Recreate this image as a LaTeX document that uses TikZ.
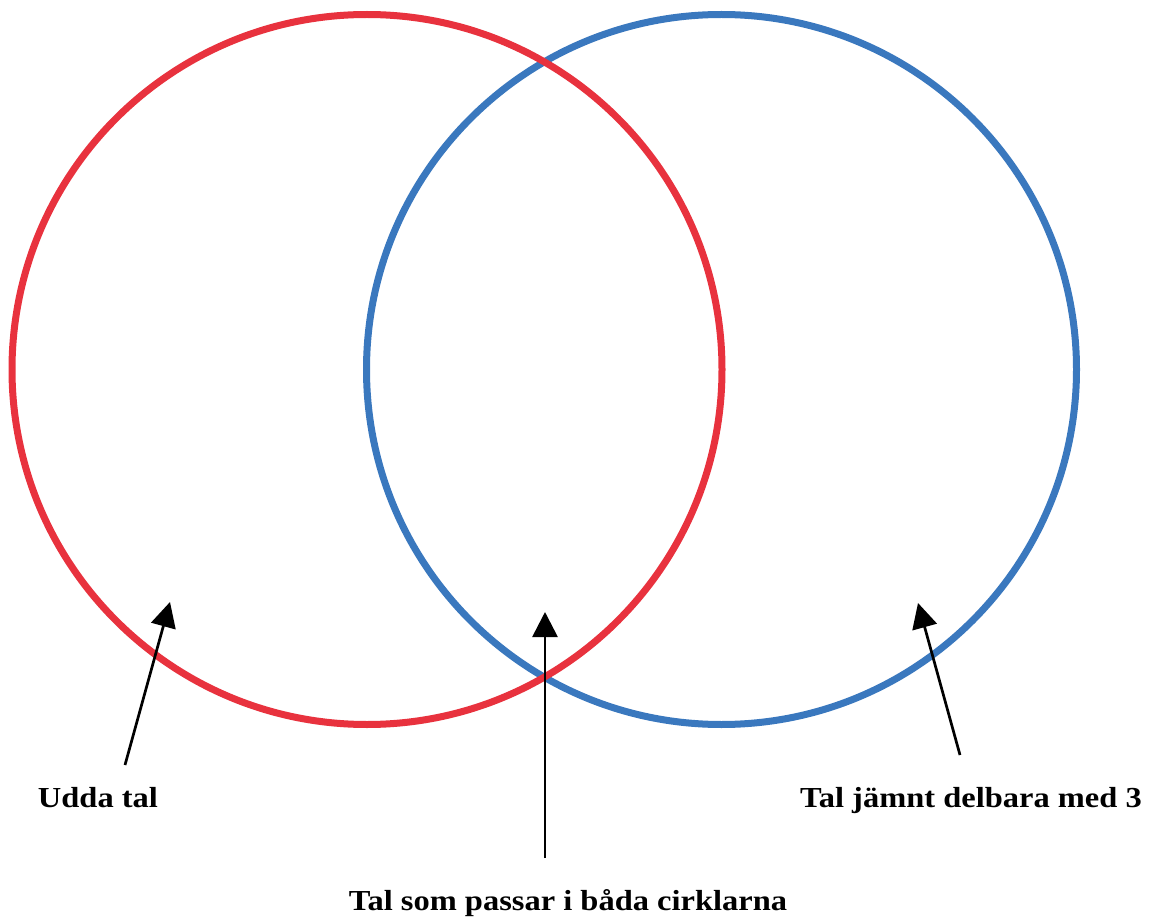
\documentclass[tikz,border=0pt]{standalone}
\usepackage{fontspec}
\setmainfont{Liberation Serif}
\newfontfamily\lblfont[FakeStretch=1.12]{Liberation Serif}
\usetikzlibrary{arrows.meta}
\definecolor{vred}{RGB}{232,50,62}
\definecolor{vblue}{RGB}{58,120,190}
\begin{document}
\begin{tikzpicture}[x=1pt,y=-1pt,
  ring/.style={line width=7pt},
  lbl/.style={font=\lblfont\fontsize{29}{34}\selectfont\bfseries, anchor=base, inner sep=0pt},
  arr/.style={line width=2.7pt, -{Triangle[length=25pt,width=25pt]}}]
\useasboundingbox (0,0) rectangle (1152,920);
\draw[ring, vblue] (721.5,369.5) circle[radius=355pt];
\draw[ring, vred] (367,369.5) circle[radius=355pt];
\node[lbl] (udda) at (98,807) {Udda tal};
\node[lbl] (bada) at (568,910) {Tal som passar i båda cirklarna};
\node[lbl] (tre) at (971,807) {Tal jämnt delbara med 3};
\coordinate (s1) at (125,765);
\coordinate (t1) at (170,602);
\coordinate (s2) at (545,858);
\coordinate (t2) at (545,612);
\coordinate (s3) at (960,755);
\coordinate (t3) at (918,603);
\draw[arr] (s1) -- (t1);
\draw[arr] (s2) -- (t2);
\draw[arr] (s3) -- (t3);
\end{tikzpicture}
\end{document}
